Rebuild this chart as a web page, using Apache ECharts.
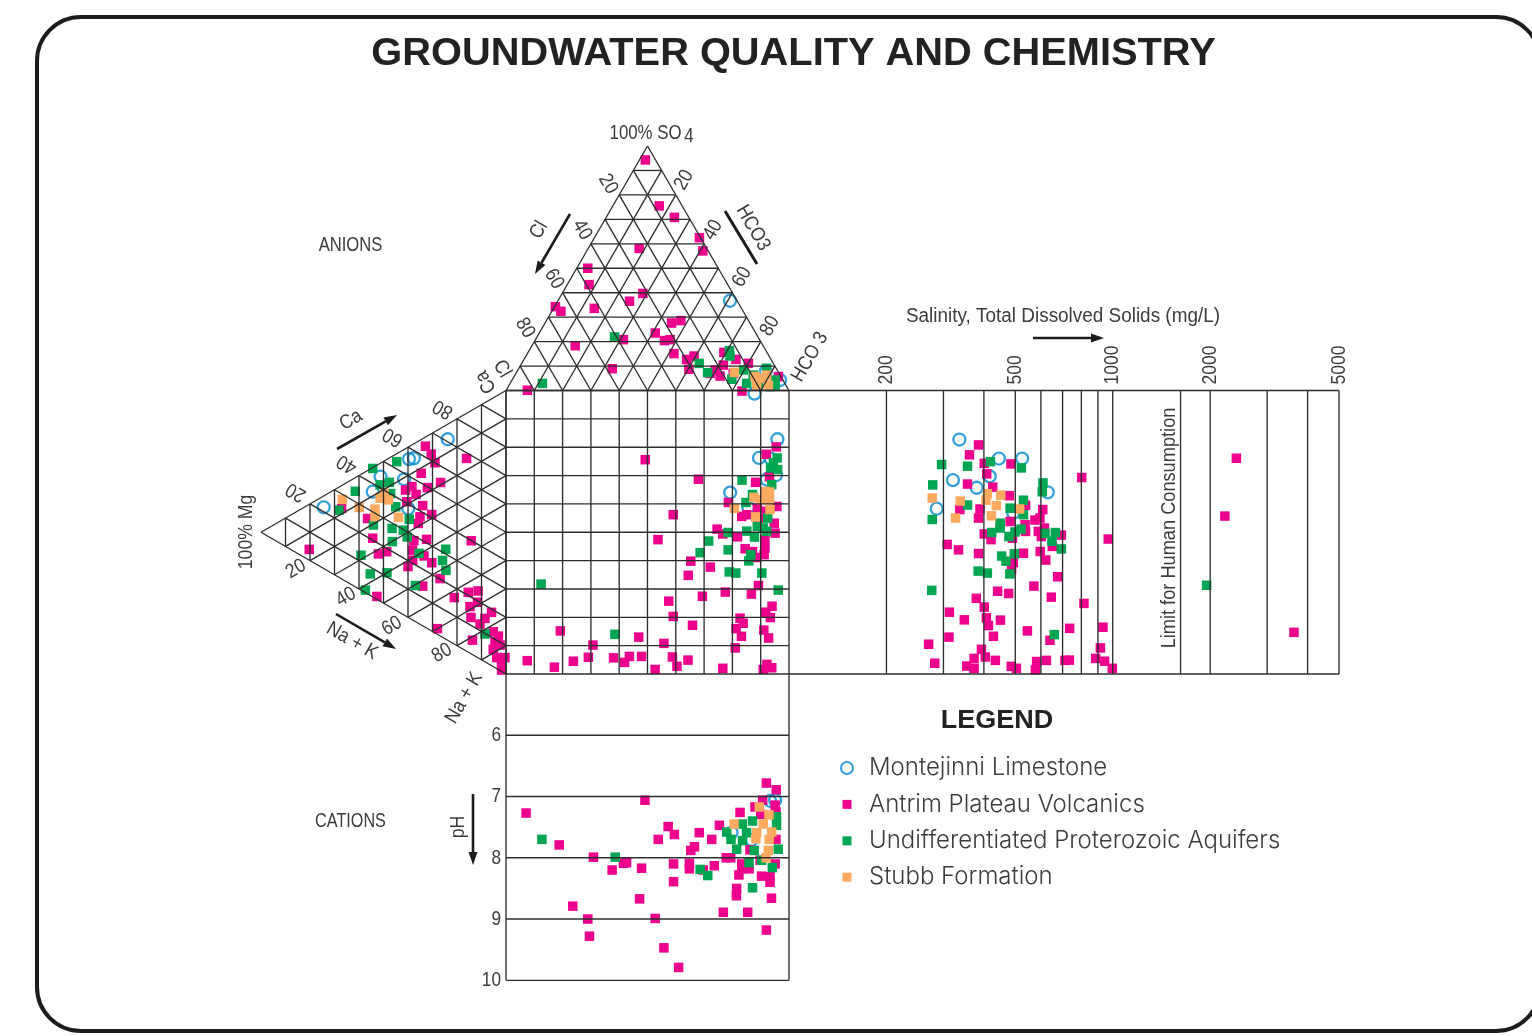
<!DOCTYPE html>
<html>
<head>
<meta charset="utf-8">
<style>html,body{margin:0;padding:0;background:#fff}#chart{width:1532px;height:1036px}</style>
<script src="https://cdn.jsdelivr.net/npm/echarts@6/dist/echarts.min.js"></script>
</head>
<body>
<div id="chart"></div>
<script>
// ---- names ----
const MONT = 'Montejinni Limestone', ANTR = 'Antrim Plateau Volcanics', UNDI = 'Undifferentiated Proterozoic Aquifers', STUB = 'Stubb Formation';
const unitNames = [MONT, ANTR, UNDI, STUB];
const gridSteps = [0,10,20,30,40,50,60,70,80,90,100];
const salinityLines = [200,300,400,500,600,700,800,900,1000,2000,3000,4000,5000];
const salinityLimit = 1620;
const salinityLabels = [200,500,1000,2000,5000];
const phLevels = [6,7,8,9,10];

// ---- anion triangle: [SO4 %, HCO3 %] ----
const anionAntrim = [[94.3,2.1],[75.5,16.4],[70.8,24.1],[62.5,37.1],[57.1,41],[58.1,18],[50,3.9],[43.3,7.7],[39.7,28.5],[36.5,25.4],[34.3,0.3],[32.4,3.2],[33.6,14.4],[27.6,44.7],[28.6,47.5],[23.5,41],[20.4,45.8],[20.8,47.6],[20.8,31.1],[18.3,15.3],[15.1,51.8],[8.9,33.1],[0.1,7.5],[12.7,57.5],[14.1,59.4],[8.7,60.3],[15.6,69.2],[12.7,74.9],[11.1,80.1],[10.4,71.6],[8.4,69.7],[5.9,72.7],[7,68.6],[5.7,93.4],[7,76.8]];
const anionUndiff = [[2.9,11.4],[21.9,27.4],[16.3,70.8],[14.1,72.1],[11.1,62.7],[7.3,67.6],[4.6,77.5],[8.4,79.7],[2.9,83.6],[6.3,84.2],[2.2,88.1],[1.6,92.5],[4.3,92.9],[9.1,87.5],[2.2,94]];
const anionStubb = [[7.4,77],[5.7,85.1],[6.3,89],[2.2,87.5],[2.2,91.6],[5,87.9]];
const anionMont = [[36.7,60.8],[7.7,87.9],[4.3,94.7]];

// ---- cation triangle: [Mg %, Na+K %] ----
const cationAntrim = [[32.9,3.2],[30.5,7.2],[29,11],[16.1,15.9],[34.6,11.9],[26.7,19.1],[32.1,18.2],[38.4,14.7],[36.7,18.3],[41,14.6],[40.5,19],[34,23.6],[30.3,28.6],[35.1,27],[35.8,29],[56.5,16.9],[54.4,24.9],[32.4,36.3],[14.2,45.9],[37.6,34.2],[80.3,15.9],[52.1,31.6],[48.7,32.5],[38.2,37.2],[33.5,41.6],[30.3,45.6],[38.1,40.8],[40,42.1],[26.9,52.9],[34,52],[52.7,46.3],[21.1,62.5],[15.4,63.5],[11.4,65],[11.6,68.9],[14.7,68.9],[5.9,75.3],[14.3,72.9],[8.6,76.1],[10.6,77.1],[28,70],[13.7,81.2],[5.2,82.5],[3.1,85.1],[4.5,86.4],[2.4,88.6],[5.2,88.7],[0.4,94],[3.8,92.3],[1.8,95.9],[1.8,97.7],[67.1,8.1]];
const cationUndiff = [[44.6,2.8],[54.4,0.3],[61.5,4.8],[68.2,8.1],[51.4,7.6],[47.6,8.6],[47.1,12.8],[45,18.5],[54.1,20.4],[46.5,25.4],[39.5,25.7],[41.9,28.3],[40.3,31.5],[46.4,30.1],[59.2,28.5],[35.5,39.7],[24.6,43.7],[25.9,47],[24.5,51.2],[55.4,37],[48.6,40],[57.4,41.7],[37,50.3],[8.6,81.6]];
const cationStubb = [[66.8,5],[59.9,11.3],[53.5,15.1],[53.5,17.8],[51.4,12.3],[48,14.6],[49.7,11.5],[43.9,22.8]];
const cationMont = [[23.8,5.3],[37.6,5.1],[39.6,4.4],[74.4,4],[51.2,4.8],[41.6,10.5],[54.4,8.5],[39.9,21.7]];

// ---- central square: [x %, y %] ----
const squareAntrim = [[49.2,75.6],[68,68.7],[78.6,60.5],[59.1,56.2],[53.7,47.4],[65.3,39.8],[72.2,37.7],[64.4,34.8],[57.5,25.7],[69.4,27.4],[77.5,28.9],[89.2,31.2],[86.7,28.2],[94,23.9],[91.8,21.8],[93.4,19.9],[59.1,20.3],[65.9,17.2],[82.7,19.7],[83.8,17.9],[81.3,16],[83.2,13.3],[91.1,15.5],[92.8,12.7],[19.2,15.2],[46.9,13],[30.7,10.2],[55.8,10.8],[81,9.2],[7.5,4.7],[17.1,2.4],[23.8,4.5],[29.1,5.9],[38,5.7],[41.9,4.1],[43.6,6.2],[47.9,6.2],[58.8,6],[60.4,2.7],[64.3,4.9],[52.7,1.6],[76.6,2],[92.2,3.4],[93.9,2.2],[90.9,1.6],[95.5,80.1],[92,77.5],[88.2,67.6],[93.1,69.6],[95.7,59.1],[81.8,48.4],[74.6,51.1],[76.6,49.4],[84.5,44.2],[87.1,43.2],[83.3,55.6],[85.1,56.2],[88.8,58.5],[94.8,53.2],[95.1,49.7],[91.5,47.4],[91.5,44.4],[91.2,42.1],[88.6,41.1],[89.2,55],[92.1,57.4],[83.4,99.8]];
const squareUndiff = [[12.4,31.7],[38.5,14],[83.4,68.4],[71.6,46.9],[68.6,42.8],[78.5,49.9],[78.5,43.8],[85.1,50.4],[87.8,48.3],[86.5,42.1],[85.8,39.9],[78.9,36],[81.2,35.6],[90.4,35.6],[96.2,29.6],[95.8,76.2],[94.5,74.5],[96,72.1],[93.5,72.7],[93.9,66.8],[87.1,63.3],[84.8,60.5],[90.9,51.5],[88.8,52.1],[92.1,50.3],[92.5,55]];
const squareStubb = [[80.7,58.4],[87.6,62.3],[91.5,64.4],[93.1,64.2],[93.1,61.5],[93.3,58],[88.2,55.4],[90,61.5]];
const squareMont = [[95.9,82.8],[89.4,76.2],[93.5,76],[95.4,70.1],[92.1,68.6],[79.2,64],[85.6,58.8],[87.8,98.9]];

// ---- salinity panel: [TDS mg/L, y %] ----
const salinityAntrim = [[385,80.8],[361,77.3],[401,74.3],[485,74.1],[408,70.6],[356,67],[426,65.9],[802,69.3],[2410,76.1],[2220,55.7],[337,58],[389,58.2],[385,55],[479,62.9],[538,59.5],[608,58],[482,53.8],[575,54.3],[596,55],[536,52.7],[401,49.4],[421,47.4],[490,47.9],[538,50.3],[589,50.3],[615,51.5],[602,48.5],[694,49],[651,45],[969,47.6],[308,45.7],[334,43.8],[385,42.5],[530,42.6],[597,43.2],[621,40.2],[493,39.3],[487,36.8],[676,34.3],[571,31],[441,29.2],[477,28.4],[646,27.1],[379,26.7],[401,23.6],[815,24.9],[313,21.8],[348,19.1],[407,19.8],[413,17.1],[450,19],[736,16.1],[933,16.5],[545,15.2],[312,13],[428,13.3],[640,11.9],[270,10.5],[916,9.2],[393,8.7],[3630,14.7],[282,3.8],[373,5.5],[404,6],[434,4.8],[354,2.8],[373,2],[486,2.7],[504,2],[582,4.4],[577,1.4],[624,4.8],[712,4.8],[735,4.9],[886,5.5],[944,4.5],[997,2]];
const salinityUndiff = [[296,73.9],[356,73.3],[419,74.9],[522,72.7],[278,66.7],[609,67.4],[606,64.3],[530,61.3],[356,59.6],[277,54.5],[482,58.5],[530,56.2],[449,53.2],[423,49.9],[449,51.5],[478,48.5],[499,50.1],[521,51.1],[618,49.6],[665,49.9],[649,46.8],[694,44.1],[454,41.6],[468,39.8],[497,42.4],[384,36.3],[410,35.6],[481,35.3],[276,29.5],[1950,31.3],[660,13.9]];
const salinityStubb = [[277,62.1],[338,61],[327,55],[410,63.6],[406,61.3],[451,63.1],[437,59.4],[422,55.8],[516,58.2]];
const salinityMont = [[336,82.7],[445,76],[525,76],[417,69.7],[321,68.4],[380,65.7],[630,64.1],[286,58.3],[493,56.8]];

// ---- pH panel: [x %, pH] ----
const phAntrim = [[92,6.78],[95.5,6.89],[49.1,7.06],[7.1,7.27],[82.7,7.26],[90.7,7.06],[88,7.17],[90,7.29],[95.4,7.25],[95.1,7.14],[57.3,7.49],[59.5,7.62],[53.8,7.7],[68.3,7.59],[72.7,7.7],[75.4,7.47],[18.8,7.79],[66.6,7.82],[65.3,7.88],[95.4,7.7],[30.9,7.99],[37.5,8.2],[41.5,8.09],[42.6,8.08],[47.9,8.17],[59.2,8.1],[59.2,8.39],[64.8,8.09],[64.8,8.18],[73.6,8.13],[69.7,8.2],[77.8,8],[79.4,8],[83.3,8.1],[83.3,8.18],[85.9,8.18],[82.3,8.28],[81.5,8.5],[81.4,8.62],[90.3,8.3],[93.3,8.31],[93.3,8.4],[95.1,8.1],[93.8,8.66],[85.4,8.89],[76.8,8.89],[23.6,8.79],[47.2,8.67],[28.9,9],[52.7,8.99],[29.5,9.28],[55.8,9.47],[61,9.79],[92,9.18],[86.2,7.87],[89.8,8.04]];
const phUndiff = [[12.7,7.7],[38.6,7.99],[68.6,8.19],[71.3,8.29],[87.1,8.49],[83.5,7.45],[87.1,7.4],[78,7.58],[79.5,7.7],[81.5,7.86],[83.6,7.72],[85,7.59],[85.9,8.08],[87.7,7.88],[90.3,8.04],[94.1,8.16],[96.2,7.86],[95.6,7.47],[95.6,7.33]];
const phStubb = [[89.5,7.17],[92.9,7.3],[90.9,7.45],[93.9,7.58],[93,7.7],[80.6,7.45],[88.6,7.59],[88.3,7.69],[92.7,7.88],[91.9,8]];
const phMont = [[95.1,7.06],[93.3,7.07],[79.7,7.59],[86.8,7.71]];

// ---- ternary projections onto the triangle axes ----
const topXY = ([so4, hco3]) => [hco3 + so4 / 2, so4];
const leftXY = ([mg, nak]) => [100 - mg, 100 - nak - mg / 2];

const inner = gridSteps.filter(t => t > 0 && t < 100);
const seg = (a, b) => [a[0], a[1], b[0], b[1]];
const topLines = [
  seg(topXY([0,0]), topXY([0,100])), seg(topXY([0,0]), topXY([100,0])), seg(topXY([0,100]), topXY([100,0]))
];
inner.forEach(t => {
  topLines.push(seg(topXY([t,0]), topXY([t,100-t])));
  topLines.push(seg(topXY([0,t]), topXY([100-t,t])));
  topLines.push(seg(topXY([0,100-t]), topXY([100-t,0])));
});
const leftLines = [
  seg(leftXY([0,0]), leftXY([0,100])), seg(leftXY([0,0]), leftXY([100,0])), seg(leftXY([0,100]), leftXY([100,0]))
];
inner.forEach(t => {
  leftLines.push(seg(leftXY([t,0]), leftXY([t,100-t])));
  leftLines.push(seg(leftXY([0,t]), leftXY([100-t,t])));
  leftLines.push(seg(leftXY([0,100-t]), leftXY([100-t,0])));
});
const squareLines = [];
gridSteps.forEach(t => { squareLines.push([t,0,t,100]); squareLines.push([0,t,100,t]); });
const salLines = salinityLines.concat([salinityLimit]).map(v => [v,0,v,100]);
salLines.push([100,100,5000,100], [100,0,5000,0]);
const phLines = phLevels.map(v => [0,v,100,v]);
phLines.push([0,5,0,10],[100,5,100,10]);

// ---- styling ----
const COL = {[MONT]:'#0089cf',[ANTR]:'#ec008c',[UNDI]:'#00a651',[STUB]:'#fbaa60'};
const SANS = '"Liberation Sans",sans-serif';
const INK = '#3c3c3c';

function lineSeries(ax, data) {
  return {
    type:'custom', xAxisIndex:ax, yAxisIndex:ax, data, silent:true, clip:false, z:6,
    renderItem(p, api) {
      const a = api.coord([api.value(0), api.value(1)]), b = api.coord([api.value(2), api.value(3)]);
      return {type:'line', shape:{x1:a[0],y1:a[1],x2:b[0],y2:b[1]}, style:{stroke:'#2e2e2e', lineWidth:1.35}};
    }
  };
}
function pts(ax, name, data) {
  const m = name === MONT;
  return {
    type:'scatter', name, xAxisIndex:ax, yAxisIndex:ax, data, clip:false, silent:true, z:m?2:3,
    symbol: m ? 'circle' : 'rect', symbolSize: m ? 12 : 9.5,
    itemStyle: m ? {color:'rgba(255,255,255,0)', borderColor:COL[name], borderWidth:2.3} : {color:COL[name], opacity:1}
  };
}
function panel(ax, mont, antr, undi, stub) {
  return [pts(ax,MONT,mont), pts(ax,ANTR,antr), pts(ax,UNDI,undi), pts(ax,STUB,stub)];
}
const series = [
  ...panel(0, squareMont, squareAntrim, squareUndiff, squareStubb),
  ...panel(1, anionMont.map(topXY), anionAntrim.map(topXY), anionUndiff.map(topXY), anionStubb.map(topXY)),
  ...panel(2, cationMont.map(leftXY), cationAntrim.map(leftXY), cationUndiff.map(leftXY), cationStubb.map(leftXY)),
  ...panel(3, salinityMont, salinityAntrim, salinityUndiff, salinityStubb),
  ...panel(4, phMont, phAntrim, phUndiff, phStubb),
  lineSeries(0, squareLines), lineSeries(1, topLines), lineSeries(2, leftLines), lineSeries(3, salLines), lineSeries(4, phLines),
  { // salinity tick labels
    type:'custom', xAxisIndex:3, yAxisIndex:3, data:salinityLabels.map(v=>[v,100]), silent:true, clip:false, z:6,
    renderItem(p, api) {
      const a = api.coord([api.value(0), api.value(1)]);
      return {type:'text', x:a[0], y:a[1]-6, rotation:Math.PI/2, scaleX:0.88,
        style:{text:String(api.value(0)), font:'20px '+SANS, fill:INK, align:'left', verticalAlign:'middle'}};
    }
  },
  { // pH tick labels
    type:'custom', xAxisIndex:4, yAxisIndex:4, data:phLevels.map(v=>[0,v]), silent:true, clip:false, z:6,
    renderItem(p, api) {
      const a = api.coord([api.value(0), api.value(1)]);
      return {type:'text', x:a[0]-5, y:a[1], scaleX:0.82,
        style:{text:String(api.value(1)), font:'21px '+SANS, fill:INK, align:'right', verticalAlign:'middle'}};
    }
  }
];

// ---- annotations: [text, x, y, rotation, horizontal scale] ----
const deg = d => d * Math.PI / 180;
const annotationLabels = [
  ['100% SO',645.5,133,0,.84],['4',689,136,0,.84],
  ['20',608,184,-60,.88],['40',582,230,-60,.88],['60',554,279,-60,.88],['80',525,328,-60,.88],
  ['20',684,180,60,.88],['40',713,230,60,.88],['60',742,277,60,.88],['80',770,326,60,.88],
  ['HCO 3',810,357,60,.88],['HCO3',753,228,-60,.88],['Cl',539,230,60,.88],
  ['Cl',502,369,-60,.88],['Ca',486,382,120,.88],
  ['80',443,409,150,.88],['60',393,437,150,.88],['40',347,464,150,.88],['20',296,492,150,.88],
  ['20',296,569,30,.88],['40',346,597,30,.88],['60',392,626,30,.88],['80',442,653,30,.88],
  ['Ca',351,420,30,.88],['Na + K',352,641,-30,.9],['Na + K',464,698,60,.9],
  ['100% Mg',246,532,90,.88],['ANIONS',350.5,245,0,.83],['CATIONS',350.5,821,0,.81],['pH',458,827,90,.88],
  ['Salinity, Total Dissolved Solids (mg/L)',1063,316,0,.946],['Limit for Human Consumption',1169,528,90,.91]
];
const arrows = [[337,449,397,415],[336,614,396,649],[570,214,535,274],[1033,338,1104,338],[473,794,473,865]];
const graphic = [
  {type:'rect', silent:true, shape:{x:37,y:17,width:1503,height:1014,r:44}, style:{fill:'none', stroke:'#1c1c1c', lineWidth:4}},
  {type:'line', silent:true, shape:{x1:725,y1:211,x2:757,y2:264}, style:{stroke:'#1c1c1c', lineWidth:3}},
  {type:'text', silent:true, x:793.5, y:54.5, scaleX:1.047, style:{text:'GROUNDWATER QUALITY AND CHEMISTRY', font:'bold 38px '+SANS, fill:'#222', align:'center', verticalAlign:'middle'}},
  {type:'text', silent:true, x:997, y:721, scaleX:1.08, style:{text:'LEGEND', font:'bold 25px '+SANS, fill:'#222', align:'center', verticalAlign:'middle'}}
];
annotationLabels.forEach(([t,x,y,r,s]) => graphic.push({type:'text', silent:true, x, y, rotation:deg(r), scaleX:s,
  style:{text:t, font:'20px '+SANS, fill:INK, align:'center', verticalAlign:'middle'}}));
arrows.forEach(([x1,y1,x2,y2]) => {
  const a = Math.atan2(y2-y1, x2-x1), L = 13, W = 4.5;
  const bx = x2 - L*Math.cos(a), by = y2 - L*Math.sin(a);
  graphic.push({type:'line', silent:true, shape:{x1,y1,x2:bx,y2:by}, style:{stroke:'#1c1c1c', lineWidth:2.6}});
  graphic.push({type:'polygon', silent:true, shape:{points:[[x2,y2],[bx-W*Math.sin(a),by+W*Math.cos(a)],[bx+W*Math.sin(a),by-W*Math.cos(a)]]}, style:{fill:'#1c1c1c'}});
});

const SQUARE_ICON = 'path://M0,0L0,0M12,12L12,12M1.5,1.5L10.5,1.5L10.5,10.5L1.5,10.5Z';
const hiddenVal = (g, min, max, extra) => Object.assign({type:'value', gridIndex:g, min, max, show:false, splitLine:{show:false}}, extra||{});
const chart = echarts.init(document.getElementById('chart'), null, {renderer:'canvas'});
chart.setOption({
  animation:false,
  backgroundColor:'#fff',
  legend:{
    show:true, orient:'vertical', left:840, top:755, padding:0, itemWidth:12, itemHeight:12, itemGap:10.4, selectedMode:false,
    textStyle:{fontFamily:'Inter,"Liberation Sans",sans-serif', fontWeight:300, fontSize:24, color:INK, padding:[0,0,0,11], lineHeight:26},
    data:[
      {name:MONT, icon:'circle'},
      {name:ANTR, icon:SQUARE_ICON},
      {name:UNDI, icon:SQUARE_ICON},
      {name:STUB, icon:SQUARE_ICON}
    ]
  },
  grid:[
    {left:506, top:390.5, width:283, height:283.5},
    {left:506, top:146, width:283, height:244.5},
    {left:261, top:390.5, width:245, height:283.5},
    {left:789, top:390.5, width:550, height:283.5},
    {left:506, top:674, width:283, height:306.3}
  ],
  xAxis:[
    hiddenVal(0,0,100), hiddenVal(1,0,100), hiddenVal(2,0,100),
    {type:'log', gridIndex:3, min:100, max:5000, logBase:10, show:false},
    hiddenVal(4,0,100)
  ],
  yAxis:[
    hiddenVal(0,0,100), hiddenVal(1,0,100), hiddenVal(2,0,100), hiddenVal(3,0,100),
    hiddenVal(4,5,10,{interval:1, inverse:true})
  ],
  series, graphic
});
</script>
</body>
</html>
